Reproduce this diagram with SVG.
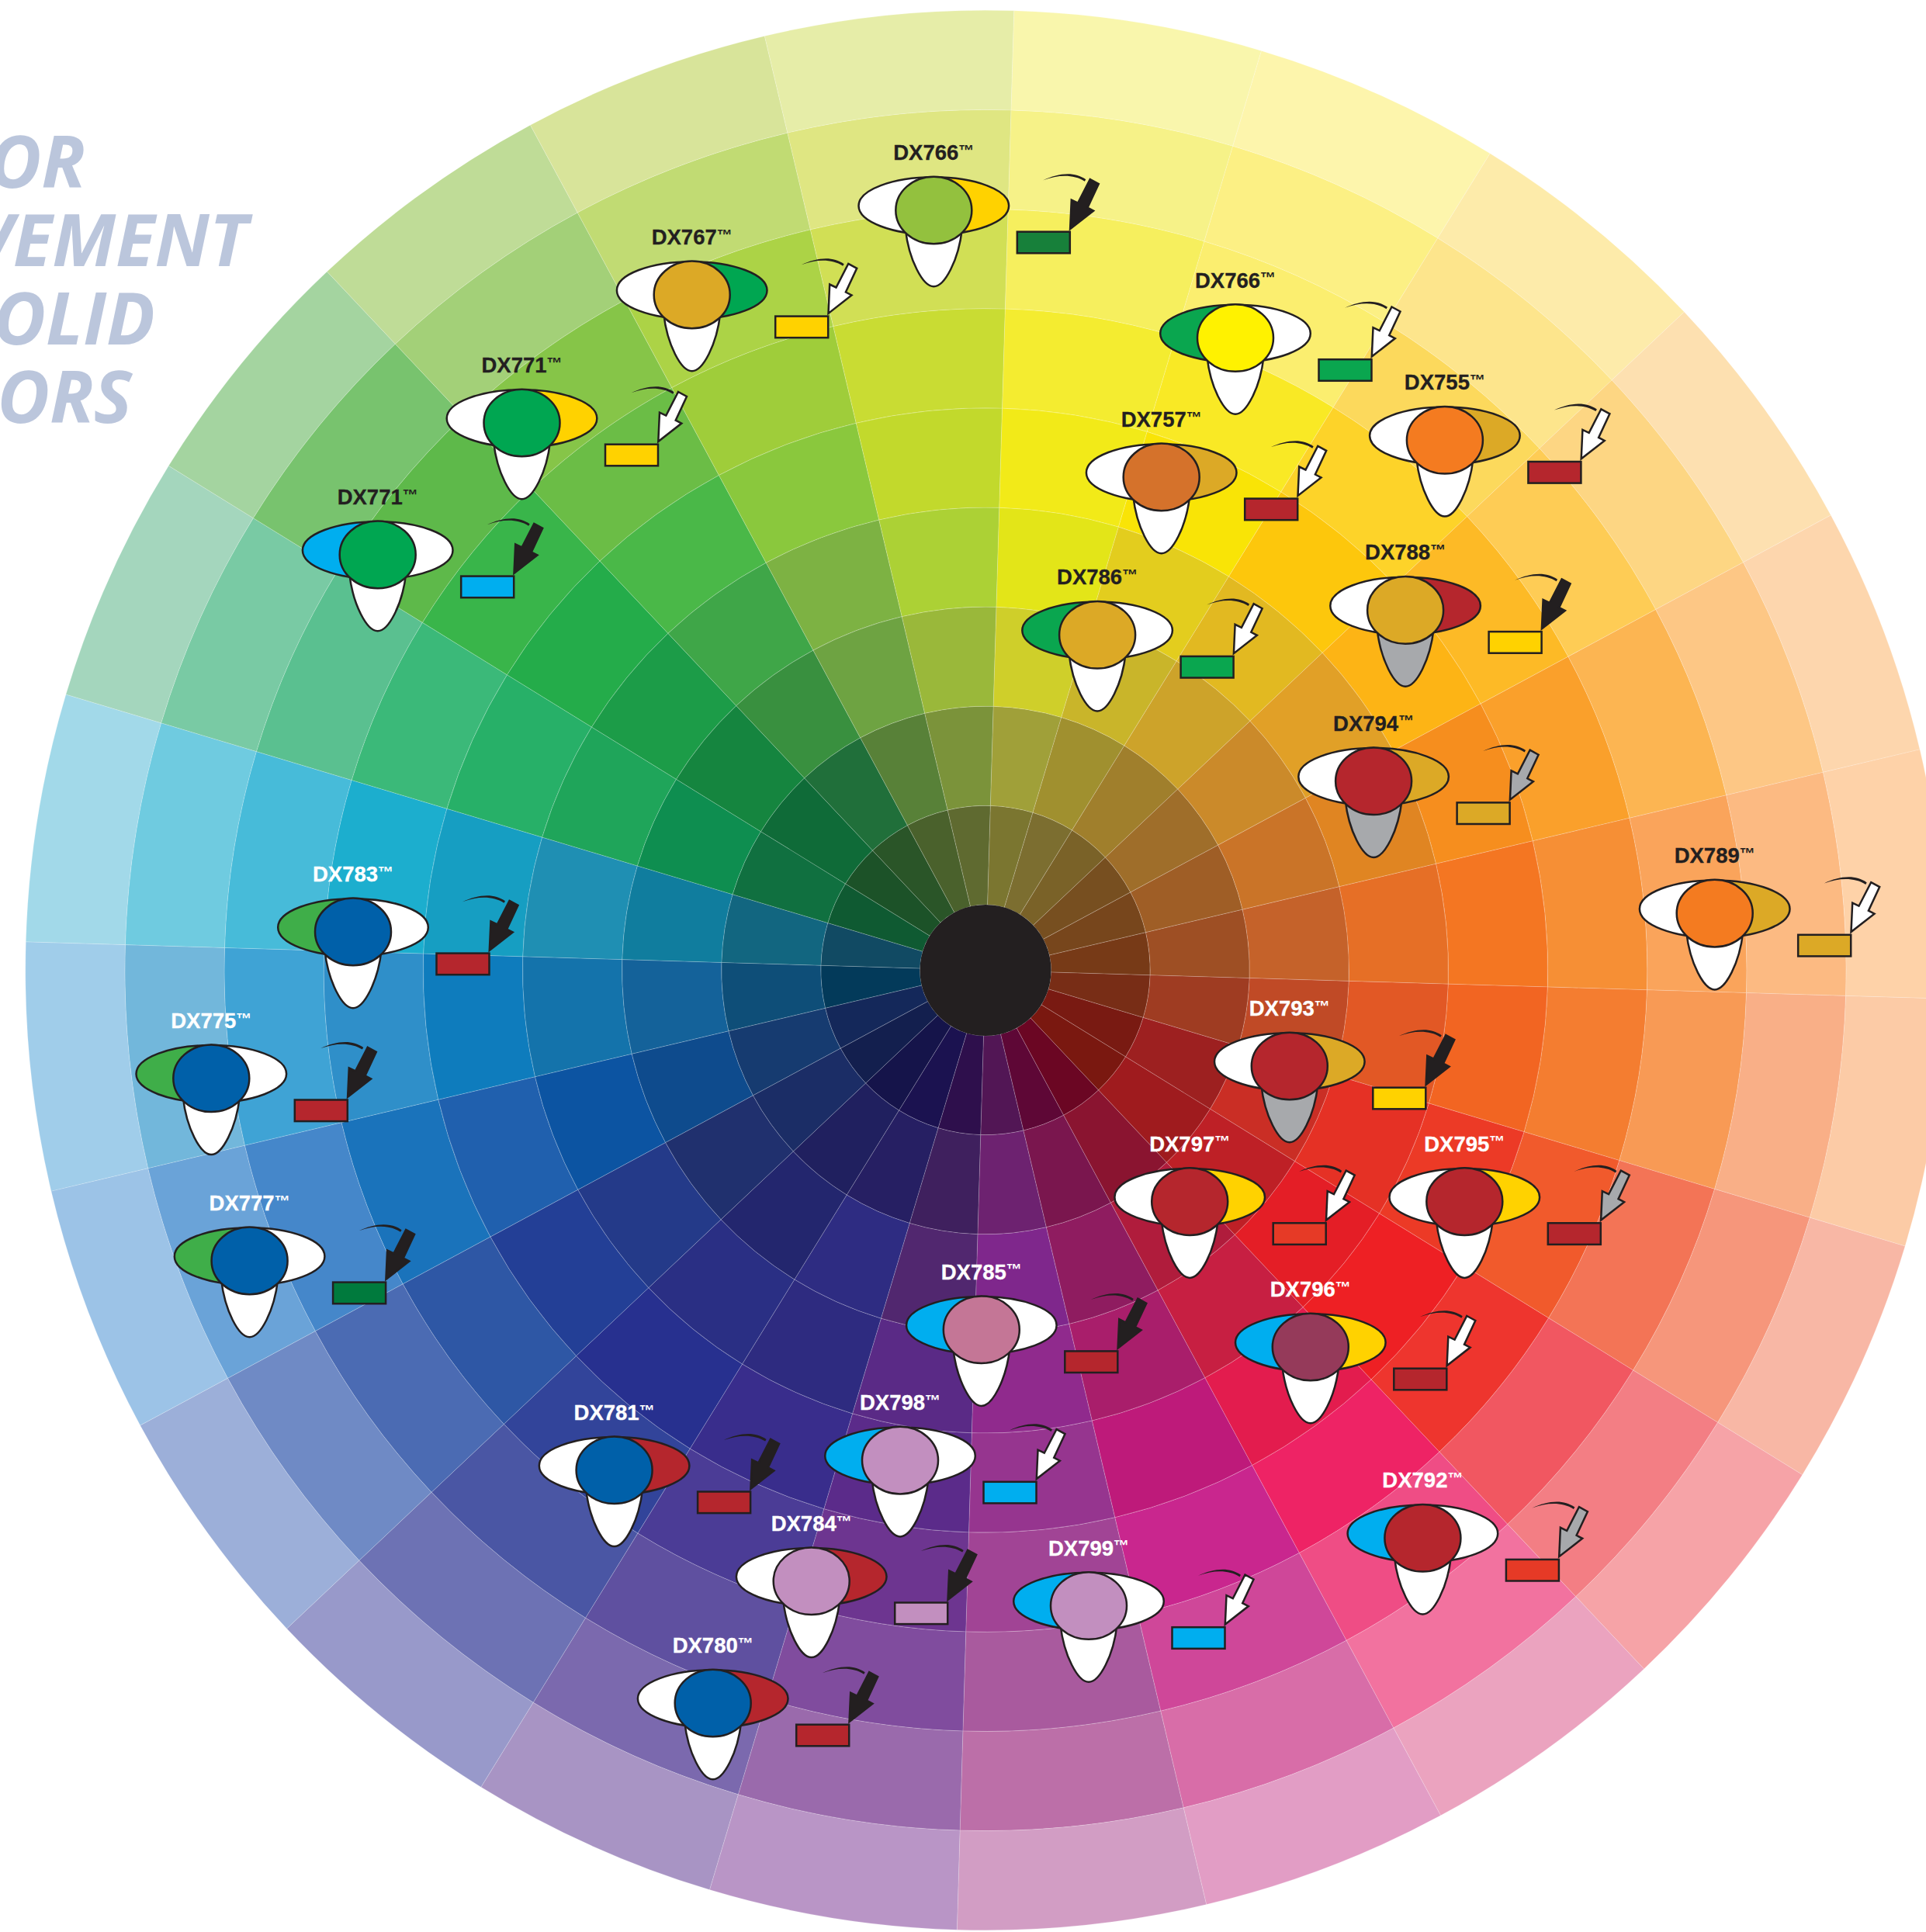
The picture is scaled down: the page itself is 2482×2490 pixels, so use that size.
<svg xmlns="http://www.w3.org/2000/svg" width="2482" height="2490" viewBox="0 0 2482 2490">
<style>
.cell{stroke:#fff;stroke-opacity:.25;stroke-width:.7}
.o{stroke:#231f20;stroke-width:2.5}
.lab{font-family:"Liberation Sans",Arial,sans-serif;font-weight:700;font-size:27.5px;text-anchor:middle;stroke-width:.3}
.tm{font-size:20px;stroke-width:0}
.d{fill:#231f20;stroke:#231f20}.w{fill:#fff;stroke:#fff}
.title{font-family:"Open Sans",sans-serif;font-weight:700;font-style:italic;font-size:93px;fill:#bbc6dc;text-anchor:end}
</style>
<defs>
<path id="r1" class="cell" d="M0,-84.5V-212A212,212 0 0 1 54.87,-204.78L21.87,-81.62A84.5,84.5 0 0 0 0,-84.5Z"/>
<path id="r2" class="cell" d="M0,-212V-340A340,340 0 0 1 88,-328.41L54.87,-204.78A212,212 0 0 0 0,-212Z"/>
<path id="r3" class="cell" d="M0,-340V-468A468,468 0 0 1 121.13,-452.05L88,-328.41A340,340 0 0 0 0,-340Z"/>
<path id="r4" class="cell" d="M0,-468V-596A596,596 0 0 1 154.26,-575.69L121.13,-452.05A468,468 0 0 0 0,-468Z"/>
<path id="r5" class="cell" d="M0,-596V-724A724,724 0 0 1 187.38,-699.33L154.26,-575.69A596,596 0 0 0 0,-596Z"/>
<path id="r6" class="cell" d="M0,-724V-852A852,852 0 0 1 220.51,-822.97L187.38,-699.33A724,724 0 0 0 0,-724Z"/>
<path id="r7" class="cell" d="M0,-852V-980A980,980 0 0 1 253.64,-946.61L220.51,-822.97A852,852 0 0 0 0,-852Z"/>
<path id="r8" class="cell" d="M0,-980V-1108A1108,1108 0 0 1 286.77,-1070.25L253.64,-946.61A980,980 0 0 0 0,-980Z"/>
<path id="r9" class="cell" d="M0,-1108V-1236A1236,1236 0 0 1 319.9,-1193.88L286.77,-1070.25A1108,1108 0 0 0 0,-1108Z"/>
<path id="T" class="o" d="M-36.5,30C-32,70 -14,104 0,104C14,104 32,70 36.5,30Z"/>
<path id="L" class="o" d="M0,-37A96.8,37 0 0 0 0,37Z"/>
<path id="R" class="o" d="M0,-37A96.8,37 0 0 1 0,37Z"/>
<ellipse id="C" class="o" cx="0" cy="5.7" rx="49" ry="43.3"/>
<rect id="B" class="o" x="107.5" y="33.4" width="68" height="27.6"/>
<path id="S" fill="#231f20" d="M141,-33C160,-42 181,-45 196,-34L194.5,-31.5C180,-41 160,-40 141,-33Z"/>
<polygon id="A" class="o" points="201.5,-34.3 212.5,-28.3 198.2,2.3 205.8,6.3 175.8,29.7 177.5,-7.7 185.8,-3.7"/>
</defs>
<rect width="2482" height="2490" fill="#fff"/>
<g id="title">
<text class="title" x="110" y="241.7">OR</text>
<text class="title" x="319" y="342.7">VEMENT</text>
<text class="title" x="200" y="444">OLID</text>
<text class="title" x="170" y="545">ORS</text>
</g>
<g id="wheel" transform="translate(1270 1250.5) scale(1.001)">
<g transform="rotate(1.7)"><use href="#r1" fill="#7b7630"/><use href="#r2" fill="#a0a039"/><use href="#r3" fill="#cfcf2a"/><use href="#r4" fill="#e3e518"/><use href="#r5" fill="#f2ea18"/><use href="#r6" fill="#f4ec30"/><use href="#r7" fill="#f6ef5e"/><use href="#r8" fill="#f6f288"/><use href="#r9" fill="#f9f6ac"/></g>
<g transform="rotate(16.7)"><use href="#r1" fill="#7c6e30"/><use href="#r2" fill="#a0902f"/><use href="#r3" fill="#c9b52a"/><use href="#r4" fill="#e3cd1e"/><use href="#r5" fill="#f9e406"/><use href="#r6" fill="#f9e925"/><use href="#r7" fill="#fbee6f"/><use href="#r8" fill="#fcf084"/><use href="#r9" fill="#fdf5ac"/></g>
<g transform="rotate(31.7)"><use href="#r1" fill="#7a6228"/><use href="#r2" fill="#a07f2c"/><use href="#r3" fill="#cda32a"/><use href="#r4" fill="#e2b921"/><use href="#r5" fill="#fdc70c"/><use href="#r6" fill="#fdd329"/><use href="#r7" fill="#fcd95c"/><use href="#r8" fill="#fde58c"/><use href="#r9" fill="#fdebaa"/></g>
<g transform="rotate(46.7)"><use href="#r1" fill="#774f20"/><use href="#r2" fill="#9f6e2a"/><use href="#r3" fill="#cb8a2a"/><use href="#r4" fill="#e1a027"/><use href="#r5" fill="#fdb415"/><use href="#r6" fill="#fdba26"/><use href="#r7" fill="#fecc55"/><use href="#r8" fill="#fdd683"/><use href="#r9" fill="#fde0b0"/></g>
<g transform="rotate(61.7)"><use href="#r1" fill="#77461c"/><use href="#r2" fill="#9f5e26"/><use href="#r3" fill="#ca7428"/><use href="#r4" fill="#e08522"/><use href="#r5" fill="#f68e1e"/><use href="#r6" fill="#faa02b"/><use href="#r7" fill="#fcb552"/><use href="#r8" fill="#fdc785"/><use href="#r9" fill="#fdd6ad"/></g>
<g transform="rotate(76.7)"><use href="#r1" fill="#773a17"/><use href="#r2" fill="#9e4f24"/><use href="#r3" fill="#c5622a"/><use href="#r4" fill="#e66f26"/><use href="#r5" fill="#f47622"/><use href="#r6" fill="#f68f35"/><use href="#r7" fill="#faa45b"/><use href="#r8" fill="#fcba82"/><use href="#r9" fill="#fed2a8"/></g>
<g transform="rotate(91.7)"><use href="#r1" fill="#782d16"/><use href="#r2" fill="#9f3c22"/><use href="#r3" fill="#c04a26"/><use href="#r4" fill="#e25825"/><use href="#r5" fill="#f26522"/><use href="#r6" fill="#f47d30"/><use href="#r7" fill="#f89a55"/><use href="#r8" fill="#f9af87"/><use href="#r9" fill="#fccba6"/></g>
<g transform="rotate(106.7)"><use href="#r1" fill="#791a12"/><use href="#r2" fill="#9d2020"/><use href="#r3" fill="#ca2e25"/><use href="#r4" fill="#e53125"/><use href="#r5" fill="#ec3a26"/><use href="#r6" fill="#f15a2c"/><use href="#r7" fill="#f37456"/><use href="#r8" fill="#f6967b"/><use href="#r9" fill="#f8b7a5"/></g>
<g transform="rotate(121.7)"><use href="#r1" fill="#7a1810"/><use href="#r2" fill="#9f1b1e"/><use href="#r3" fill="#be2026"/><use href="#r4" fill="#e41e26"/><use href="#r5" fill="#ee2024"/><use href="#r6" fill="#ee352e"/><use href="#r7" fill="#f15761"/><use href="#r8" fill="#f37e84"/><use href="#r9" fill="#f6a3a7"/></g>
<g transform="rotate(136.7)"><use href="#r1" fill="#6b0623"/><use href="#r2" fill="#8a1430"/><use href="#r3" fill="#b01c3c"/><use href="#r4" fill="#c71f42"/><use href="#r5" fill="#e31c4e"/><use href="#r6" fill="#ee2365"/><use href="#r7" fill="#ef4d85"/><use href="#r8" fill="#f2729f"/><use href="#r9" fill="#eba3bf"/></g>
<g transform="rotate(151.7)"><use href="#r1" fill="#5e0736"/><use href="#r2" fill="#7a164e"/><use href="#r3" fill="#8f1c60"/><use href="#r4" fill="#a91e6b"/><use href="#r5" fill="#be1a7a"/><use href="#r6" fill="#c9268e"/><use href="#r7" fill="#cf4799"/><use href="#r8" fill="#d86da8"/><use href="#r9" fill="#e29dc5"/></g>
<g transform="rotate(166.7)"><use href="#r1" fill="#521655"/><use href="#r2" fill="#6d2270"/><use href="#r3" fill="#7f278c"/><use href="#r4" fill="#902a8d"/><use href="#r5" fill="#96358f"/><use href="#r6" fill="#a14495"/><use href="#r7" fill="#a95a9e"/><use href="#r8" fill="#bc6fa8"/><use href="#r9" fill="#d29dc4"/></g>
<g transform="rotate(181.7)"><use href="#r1" fill="#2e0f4c"/><use href="#r2" fill="#3f205e"/><use href="#r3" fill="#51276f"/><use href="#r4" fill="#5a2a86"/><use href="#r5" fill="#5b2b8a"/><use href="#r6" fill="#6d3590"/><use href="#r7" fill="#804c9e"/><use href="#r8" fill="#9a6aac"/><use href="#r9" fill="#b995c6"/></g>
<g transform="rotate(196.7)"><use href="#r1" fill="#1b1250"/><use href="#r2" fill="#261f63"/><use href="#r3" fill="#2e2c82"/><use href="#r4" fill="#2e2b80"/><use href="#r5" fill="#392d8c"/><use href="#r6" fill="#4b3c96"/><use href="#r7" fill="#5f50a0"/><use href="#r8" fill="#7b69ae"/><use href="#r9" fill="#a894c4"/></g>
<g transform="rotate(211.7)"><use href="#r1" fill="#15144a"/><use href="#r2" fill="#20205f"/><use href="#r3" fill="#23266e"/><use href="#r4" fill="#2a2f84"/><use href="#r5" fill="#27308f"/><use href="#r6" fill="#32449a"/><use href="#r7" fill="#4a56a4"/><use href="#r8" fill="#6d72b4"/><use href="#r9" fill="#9899ca"/></g>
<g transform="rotate(226.7)"><use href="#r1" fill="#131f4e"/><use href="#r2" fill="#1b2d66"/><use href="#r3" fill="#20306e"/><use href="#r4" fill="#243a89"/><use href="#r5" fill="#233f96"/><use href="#r6" fill="#2e57a5"/><use href="#r7" fill="#4b6bb3"/><use href="#r8" fill="#6f8ac5"/><use href="#r9" fill="#9cafd9"/></g>
<g transform="rotate(241.7)"><use href="#r1" fill="#14285a"/><use href="#r2" fill="#163b70"/><use href="#r3" fill="#0e4b8d"/><use href="#r4" fill="#0c54a2"/><use href="#r5" fill="#2060ae"/><use href="#r6" fill="#1a73bb"/><use href="#r7" fill="#4587ca"/><use href="#r8" fill="#6aa3d8"/><use href="#r9" fill="#9cc3e7"/></g>
<g transform="rotate(256.7)"><use href="#r1" fill="#033a5a"/><use href="#r2" fill="#0e4e78"/><use href="#r3" fill="#14629a"/><use href="#r4" fill="#1473ab"/><use href="#r5" fill="#0e7cbd"/><use href="#r6" fill="#2f8fc9"/><use href="#r7" fill="#3fa3d5"/><use href="#r8" fill="#72b7db"/><use href="#r9" fill="#a0cdea"/></g>
<g transform="rotate(271.7)"><use href="#r1" fill="#114a63"/><use href="#r2" fill="#126680"/><use href="#r3" fill="#107d9e"/><use href="#r4" fill="#1f8fb3"/><use href="#r5" fill="#169ec2"/><use href="#r6" fill="#1caece"/><use href="#r7" fill="#47bbd9"/><use href="#r8" fill="#6fcbe0"/><use href="#r9" fill="#a2d9e9"/></g>
<g transform="rotate(286.7)"><use href="#r1" fill="#0f5a32"/><use href="#r2" fill="#107040"/><use href="#r3" fill="#0e8e50"/><use href="#r4" fill="#1fa55a"/><use href="#r5" fill="#27b068"/><use href="#r6" fill="#3bb979"/><use href="#r7" fill="#5ac090"/><use href="#r8" fill="#79caa4"/><use href="#r9" fill="#a4d6bd"/></g>
<g transform="rotate(301.7)"><use href="#r1" fill="#1c5228"/><use href="#r2" fill="#0f6b38"/><use href="#r3" fill="#15853f"/><use href="#r4" fill="#1c9c48"/><use href="#r5" fill="#24ac4a"/><use href="#r6" fill="#39b54a"/><use href="#r7" fill="#5eb94a"/><use href="#r8" fill="#78c36e"/><use href="#r9" fill="#a4d4a0"/></g>
<g transform="rotate(316.7)"><use href="#r1" fill="#2a5528"/><use href="#r2" fill="#206f3a"/><use href="#r3" fill="#39903f"/><use href="#r4" fill="#3fa648"/><use href="#r5" fill="#4ab848"/><use href="#r6" fill="#6bbd46"/><use href="#r7" fill="#86c548"/><use href="#r8" fill="#a3d078"/><use href="#r9" fill="#bfdc97"/></g>
<g transform="rotate(331.7)"><use href="#r1" fill="#4a612c"/><use href="#r2" fill="#588138"/><use href="#r3" fill="#6ea342"/><use href="#r4" fill="#7db243"/><use href="#r5" fill="#8ac83d"/><use href="#r6" fill="#9fcd3a"/><use href="#r7" fill="#acd346"/><use href="#r8" fill="#c1db73"/><use href="#r9" fill="#d8e49a"/></g>
<g transform="rotate(346.7)"><use href="#r1" fill="#5f6a30"/><use href="#r2" fill="#7b933a"/><use href="#r3" fill="#9ab83a"/><use href="#r4" fill="#acd135"/><use href="#r5" fill="#c2d92c"/><use href="#r6" fill="#c9dc33"/><use href="#r7" fill="#d1df55"/><use href="#r8" fill="#dfe682"/><use href="#r9" fill="#e6eda8"/></g>
<circle id="hub" r="84.5" fill="#231f20"/>
</g>
<g transform="translate(.8 1)">
<g id="nodes">
<g id="n01" transform="translate(1202.5 264.3)"><text class="lab d" y="-59.3">DX766<tspan class="tm" dy="-5.3">™</tspan></text><use href="#T" fill="#fff"/><use href="#L" fill="#fff"/><use href="#R" fill="#ffd200"/><use href="#C" fill="#93c13e"/><use href="#B" fill="#17803a"/></g>
<g id="n02" transform="translate(890.9 373.2)"><text class="lab d" y="-59.3">DX767<tspan class="tm" dy="-5.3">™</tspan></text><use href="#T" fill="#fff"/><use href="#L" fill="#fff"/><use href="#R" fill="#00a651"/><use href="#C" fill="#dca926"/><use href="#B" fill="#ffd200"/></g>
<g id="n03" transform="translate(1591.2 428.8)"><text class="lab d" y="-59.3">DX766<tspan class="tm" dy="-5.3">™</tspan></text><use href="#T" fill="#fff"/><use href="#L" fill="#0aa64f"/><use href="#R" fill="#fff"/><use href="#C" fill="#fff200"/><use href="#B" fill="#0aa64f"/></g>
<g id="n04" transform="translate(671.7 538.3)"><text class="lab d" y="-59.3">DX771<tspan class="tm" dy="-5.3">™</tspan></text><use href="#T" fill="#fff"/><use href="#L" fill="#fff"/><use href="#R" fill="#ffd200"/><use href="#C" fill="#00a651"/><use href="#B" fill="#ffd200"/></g>
<g id="n05" transform="translate(485.9 708.2)"><text class="lab d" y="-59.3">DX771<tspan class="tm" dy="-5.3">™</tspan></text><use href="#T" fill="#fff"/><use href="#L" fill="#00aeef"/><use href="#R" fill="#fff"/><use href="#C" fill="#00a651"/><use href="#B" fill="#00aeef"/></g>
<g id="n06" transform="translate(1861.1 560.6)"><text class="lab d" y="-59.3">DX755<tspan class="tm" dy="-5.3">™</tspan></text><use href="#T" fill="#fff"/><use href="#L" fill="#fff"/><use href="#R" fill="#dca926"/><use href="#C" fill="#f47b20"/><use href="#B" fill="#b5262d"/></g>
<g id="n07" transform="translate(1495.9 608.2)"><text class="lab d" y="-59.3">DX757<tspan class="tm" dy="-5.3">™</tspan></text><use href="#T" fill="#fff"/><use href="#L" fill="#fff"/><use href="#R" fill="#dca926"/><use href="#C" fill="#d5722b"/><use href="#B" fill="#b5262d"/></g>
<g id="n08" transform="translate(1810.3 779.7)"><text class="lab d" y="-59.3">DX788<tspan class="tm" dy="-5.3">™</tspan></text><use href="#T" fill="#a7a9ac"/><use href="#L" fill="#fff"/><use href="#R" fill="#b5262d"/><use href="#C" fill="#dca926"/><use href="#B" fill="#ffd200"/></g>
<g id="n09" transform="translate(1413.3 811.5)"><text class="lab d" y="-59.3">DX786<tspan class="tm" dy="-5.3">™</tspan></text><use href="#T" fill="#fff"/><use href="#L" fill="#0aa64f"/><use href="#R" fill="#fff"/><use href="#C" fill="#dca926"/><use href="#B" fill="#0aa64f"/></g>
<g id="n10" transform="translate(1769.3 1000)"><text class="lab d" y="-59.3">DX794<tspan class="tm" dy="-5.3">™</tspan></text><use href="#T" fill="#a7a9ac"/><use href="#L" fill="#fff"/><use href="#R" fill="#dca926"/><use href="#C" fill="#b5262d"/><use href="#B" fill="#dca926"/></g>
<g id="n11" transform="translate(2208.9 1170.4)"><text class="lab d" y="-59.3">DX789<tspan class="tm" dy="-5.3">™</tspan></text><use href="#T" fill="#fff"/><use href="#L" fill="#fff"/><use href="#R" fill="#dca926"/><use href="#C" fill="#f47b20"/><use href="#B" fill="#dca926"/></g>
<g id="n12" transform="translate(1661 1367.3)"><text class="lab w" y="-59.3">DX793<tspan class="tm" dy="-5.3">™</tspan></text><use href="#T" fill="#a7a9ac"/><use href="#L" fill="#fff"/><use href="#R" fill="#dca926"/><use href="#C" fill="#b5262d"/><use href="#B" fill="#ffd200"/></g>
<g id="n13" transform="translate(1532.4 1541.9)"><text class="lab w" y="-59.3">DX797<tspan class="tm" dy="-5.3">™</tspan></text><use href="#T" fill="#fff"/><use href="#L" fill="#fff"/><use href="#R" fill="#ffd200"/><use href="#C" fill="#b5262d"/><use href="#B" fill="#e63a26"/></g>
<g id="n14" transform="translate(1886.5 1541.9)"><text class="lab w" y="-59.3">DX795<tspan class="tm" dy="-5.3">™</tspan></text><use href="#T" fill="#fff"/><use href="#L" fill="#fff"/><use href="#R" fill="#ffd200"/><use href="#C" fill="#b5262d"/><use href="#B" fill="#b5262d"/></g>
<g id="n15" transform="translate(1688 1729.3)"><text class="lab w" y="-59.3">DX796<tspan class="tm" dy="-5.3">™</tspan></text><use href="#T" fill="#fff"/><use href="#L" fill="#00aeef"/><use href="#R" fill="#ffd200"/><use href="#C" fill="#953a5a"/><use href="#B" fill="#b5262d"/></g>
<g id="n16" transform="translate(1264 1707)"><text class="lab w" y="-59.3">DX785<tspan class="tm" dy="-5.3">™</tspan></text><use href="#T" fill="#fff"/><use href="#L" fill="#00aeef"/><use href="#R" fill="#fff"/><use href="#C" fill="#c47696"/><use href="#B" fill="#b5262d"/></g>
<g id="n17" transform="translate(1159.2 1875.4)"><text class="lab w" y="-59.3">DX798<tspan class="tm" dy="-5.3">™</tspan></text><use href="#T" fill="#fff"/><use href="#L" fill="#00aeef"/><use href="#R" fill="#fff"/><use href="#C" fill="#c28fbf"/><use href="#B" fill="#00aeef"/></g>
<g id="n18" transform="translate(790.8 1888.1)"><text class="lab w" y="-59.3">DX781<tspan class="tm" dy="-5.3">™</tspan></text><use href="#T" fill="#fff"/><use href="#L" fill="#fff"/><use href="#R" fill="#b5262d"/><use href="#C" fill="#0060a9"/><use href="#B" fill="#b5262d"/></g>
<g id="n19" transform="translate(1832.6 1975.5)"><text class="lab w" y="-59.3">DX792<tspan class="tm" dy="-5.3">™</tspan></text><use href="#T" fill="#fff"/><use href="#L" fill="#00aeef"/><use href="#R" fill="#fff"/><use href="#C" fill="#b5262d"/><use href="#B" fill="#e63a26"/></g>
<g id="n20" transform="translate(1044.9 2031.1)"><text class="lab w" y="-59.3">DX784<tspan class="tm" dy="-5.3">™</tspan></text><use href="#T" fill="#fff"/><use href="#L" fill="#fff"/><use href="#R" fill="#b5262d"/><use href="#C" fill="#c28fbf"/><use href="#B" fill="#c28fbf"/></g>
<g id="n21" transform="translate(1402.2 2062.8)"><text class="lab w" y="-59.3">DX799<tspan class="tm" dy="-5.3">™</tspan></text><use href="#T" fill="#fff"/><use href="#L" fill="#00aeef"/><use href="#R" fill="#fff"/><use href="#C" fill="#c28fbf"/><use href="#B" fill="#00aeef"/></g>
<g id="n22" transform="translate(917.9 2188.3)"><text class="lab w" y="-59.3">DX780<tspan class="tm" dy="-5.3">™</tspan></text><use href="#T" fill="#fff"/><use href="#L" fill="#fff"/><use href="#R" fill="#b5262d"/><use href="#C" fill="#0060a9"/><use href="#B" fill="#b5262d"/></g>
<g id="n23" transform="translate(454.2 1194.2)"><text class="lab w" y="-59.3">DX783<tspan class="tm" dy="-5.3">™</tspan></text><use href="#T" fill="#fff"/><use href="#L" fill="#3fae49"/><use href="#R" fill="#fff"/><use href="#C" fill="#0060a9"/><use href="#B" fill="#b5262d"/></g>
<g id="n24" transform="translate(271.5 1383.1)"><text class="lab w" y="-59.3">DX775<tspan class="tm" dy="-5.3">™</tspan></text><use href="#T" fill="#fff"/><use href="#L" fill="#3fae49"/><use href="#R" fill="#fff"/><use href="#C" fill="#0060a9"/><use href="#B" fill="#b5262d"/></g>
<g id="n25" transform="translate(320.8 1618.2)"><text class="lab w" y="-59.3">DX777<tspan class="tm" dy="-5.3">™</tspan></text><use href="#T" fill="#fff"/><use href="#L" fill="#3fae49"/><use href="#R" fill="#fff"/><use href="#C" fill="#0060a9"/><use href="#B" fill="#007a3d"/></g>
</g>
<g id="connectors">
<g transform="translate(1202.5 264.3)"><use href="#S"/><use href="#A" fill="#231f20"/></g>
<g transform="translate(890.9 373.2)"><use href="#S"/><use href="#A" fill="#fff"/></g>
<g transform="translate(1591.2 428.8)"><use href="#S"/><use href="#A" fill="#fff"/></g>
<g transform="translate(671.7 538.3)"><use href="#S"/><use href="#A" fill="#fff"/></g>
<g transform="translate(485.9 708.2)"><use href="#S"/><use href="#A" fill="#231f20"/></g>
<g transform="translate(1861.1 560.6)"><use href="#S"/><use href="#A" fill="#fff"/></g>
<g transform="translate(1495.9 608.2)"><use href="#S"/><use href="#A" fill="#fff"/></g>
<g transform="translate(1810.3 779.7)"><use href="#S"/><use href="#A" fill="#231f20"/></g>
<g transform="translate(1413.3 811.5)"><use href="#S"/><use href="#A" fill="#fff"/></g>
<g transform="translate(1769.3 1000)"><use href="#S"/><use href="#A" fill="#a7a9ac"/></g>
<g transform="translate(2208.9 1170.4)"><use href="#S"/><use href="#A" fill="#fff"/></g>
<g transform="translate(1661 1367.3)"><use href="#S"/><use href="#A" fill="#231f20"/></g>
<g transform="translate(1532.4 1541.9)"><use href="#S"/><use href="#A" fill="#fff"/></g>
<g transform="translate(1886.5 1541.9)"><use href="#S"/><use href="#A" fill="#a7a9ac"/></g>
<g transform="translate(1688 1729.3)"><use href="#S"/><use href="#A" fill="#fff"/></g>
<g transform="translate(1264 1707)"><use href="#S"/><use href="#A" fill="#231f20"/></g>
<g transform="translate(1159.2 1875.4)"><use href="#S"/><use href="#A" fill="#fff"/></g>
<g transform="translate(790.8 1888.1)"><use href="#S"/><use href="#A" fill="#231f20"/></g>
<g transform="translate(1832.6 1975.5)"><use href="#S"/><use href="#A" fill="#a7a9ac"/></g>
<g transform="translate(1044.9 2031.1)"><use href="#S"/><use href="#A" fill="#231f20"/></g>
<g transform="translate(1402.2 2062.8)"><use href="#S"/><use href="#A" fill="#fff"/></g>
<g transform="translate(917.9 2188.3)"><use href="#S"/><use href="#A" fill="#231f20"/></g>
<g transform="translate(454.2 1194.2)"><use href="#S"/><use href="#A" fill="#231f20"/></g>
<g transform="translate(271.5 1383.1)"><use href="#S"/><use href="#A" fill="#231f20"/></g>
<g transform="translate(320.8 1618.2)"><use href="#S"/><use href="#A" fill="#231f20"/></g>
</g>
</g>
</svg>
